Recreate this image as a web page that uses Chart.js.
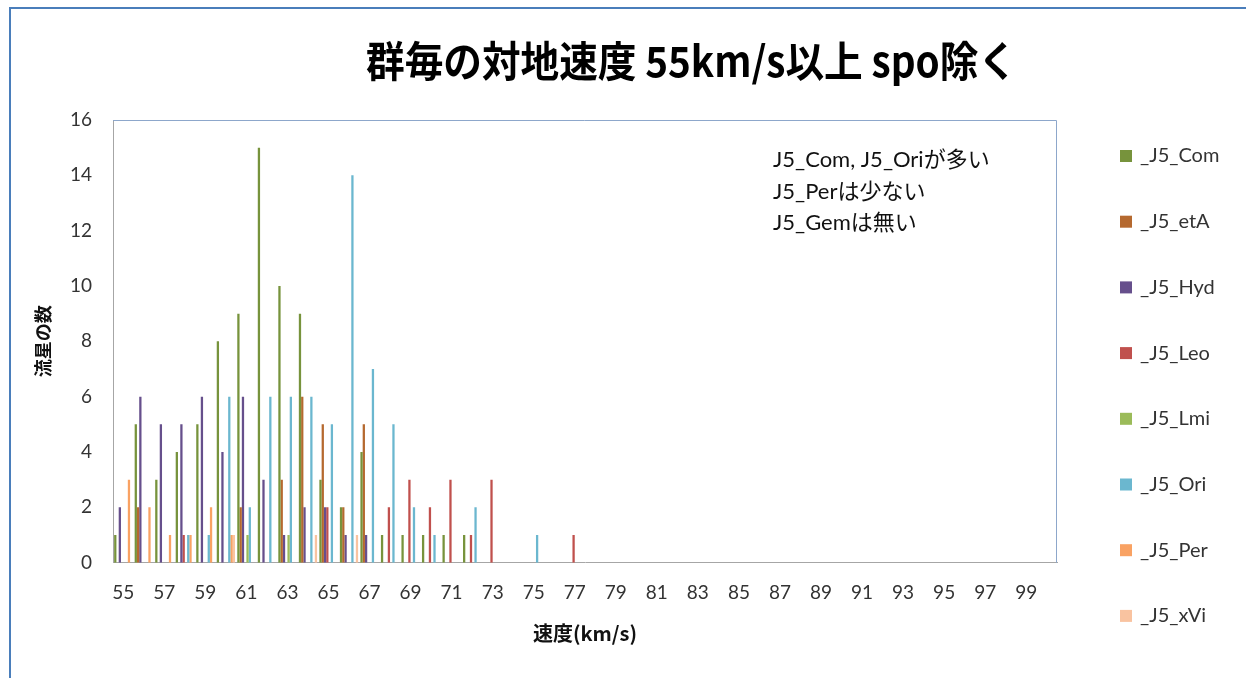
<!DOCTYPE html>
<html>
<head>
<meta charset="utf-8">
<script src="https://cdn.jsdelivr.net/npm/chart.js@4"></script>
<style>
  html, body { margin: 0; padding: 0; background: #fff; overflow: hidden; }
  #wrap { position: relative; width: 1246px; height: 678px; }
  #frame { position: absolute; left: 9px; top: 7px; width: 1300px; height: 700px;
           border-left: 2px solid #4A7EBB; border-top: 2px solid #4A7EBB; pointer-events: none; }
  canvas { position: absolute; left: 0; top: 0; }
</style>
</head>
<body>
<div id="wrap">
  <canvas id="c" width="1246" height="678"></canvas>
  <div id="frame"></div>
</div>
<script>
// 速度 (km/s) categories
const speeds = [55,56,57,58,59,60,61,62,63,64,65,66,67,68,69,70,71,72,73,74,75,76,77,78,79,80,
                81,82,83,84,85,86,87,88,89,90,91,92,93,94,95,96,97,98,99,100];

// meteor counts per shower, one value per speed category
const com = [1,5,3,4,5,8,9,15,10,9,3,2,4,1,1,1,1,1,0,0,0,0,0,0,0,0,0,0,0,0,0,0,0,0,0,0,0,0,0,0,0,0,0,0,0,0];
const etA = [0,2,0,0,0,0,2,0,3,6,5,2,5,0,0,0,0,0,0,0,0,0,0,0,0,0,0,0,0,0,0,0,0,0,0,0,0,0,0,0,0,0,0,0,0,0];
const hyd = [2,6,5,5,6,4,6,3,1,2,2,1,1,0,0,0,0,0,0,0,0,0,0,0,0,0,0,0,0,0,0,0,0,0,0,0,0,0,0,0,0,0,0,0,0,0];
const leo = [0,0,0,1,0,0,0,0,0,0,2,0,0,2,3,2,3,1,3,0,0,0,1,0,0,0,0,0,0,0,0,0,0,0,0,0,0,0,0,0,0,0,0,0,0,0];
const lmi = [0,0,0,0,0,0,1,0,1,0,0,0,0,0,0,0,0,0,0,0,0,0,0,0,0,0,0,0,0,0,0,0,0,0,0,0,0,0,0,0,0,0,0,0,0,0];
const ori = [0,0,0,1,1,6,2,6,6,6,5,14,7,5,2,1,0,2,0,0,1,0,0,0,0,0,0,0,0,0,0,0,0,0,0,0,0,0,0,0,0,0,0,0,0,0];
const per = [3,2,1,1,2,1,0,0,0,0,0,0,0,0,0,0,0,0,0,0,0,0,0,0,0,0,0,0,0,0,0,0,0,0,0,0,0,0,0,0,0,0,0,0,0,0];
const xvi = [0,0,0,0,0,1,0,0,0,1,0,1,0,0,0,0,0,0,0,0,0,0,0,0,0,0,0,0,0,0,0,0,0,0,0,0,0,0,0,0,0,0,0,0,0,0];

const seriesNames = ['_J5_Com','_J5_etA','_J5_Hyd','_J5_Leo','_J5_Lmi','_J5_Ori','_J5_Per','_J5_xVi'];
const seriesColors = ['#77933C','#B5692F','#664F8C','#C0504D','#9BBB59','#6BB7CF','#F9A263','#F9C3A0'];
const seriesData = [com, etA, hyd, leo, lmi, ori, per, xvi];

const yTicks = [0,2,4,6,8,10,12,14,16];

const chartTitle = '群毎の対地速度 55km/s以上 spo除く';
const notes = ['J5_Com, J5_Oriが多い', 'J5_Perは少ない', 'J5_Gemは無い'];
const xTitle = '速度(km/s)';
const yTitle = '流星の数';

const LATIN = 'Lato, "Noto Sans CJK JP", sans-serif';
const CJK = '"Noto Sans CJK JP", sans-serif';
Chart.defaults.font.family = LATIN;
Chart.defaults.color = '#333';

// title, plot frame, notes and legend drawn on the chart canvas
const decorations = {
  id: 'decorations',
  beforeDatasetsDraw(chart) {
    const {ctx, chartArea: a} = chart;
    ctx.save();
    ctx.strokeStyle = '#8DA7CB';
    ctx.lineWidth = 1;
    ctx.beginPath();
    ctx.moveTo(a.left, a.top + 0.5);
    ctx.lineTo(a.right - 0.5, a.top + 0.5);
    ctx.lineTo(a.right - 0.5, a.bottom);
    ctx.stroke();
    ctx.restore();
  },
  afterDraw(chart) {
    const ctx = chart.ctx;
    ctx.save();
    // chart title, condensed to its column width
    ctx.font = 'bold 42px ' + CJK;
    ctx.fillStyle = '#000';
    ctx.textBaseline = 'middle';
    ctx.textAlign = 'left';
    const tw = ctx.measureText(chartTitle).width;
    ctx.translate(366, 61);
    ctx.scale(651 / tw, 1);
    ctx.fillText(chartTitle, 0, 0);
    ctx.restore();

    // notes inside the plot
    ctx.save();
    ctx.font = '22px ' + LATIN;
    ctx.fillStyle = '#111';
    ctx.textBaseline = 'middle';
    notes.forEach((t, i) => ctx.fillText(t, 773, 160 + i * 31.6));
    ctx.restore();

    // legend
    ctx.save();
    ctx.font = '20px ' + LATIN;
    ctx.textBaseline = 'middle';
    chart.data.datasets.forEach((ds, i) => {
      const y = 156 + i * 65.7;
      ctx.fillStyle = ds.backgroundColor;
      ctx.fillRect(1120, y - 6, 12, 12);
      ctx.fillStyle = '#333';
      ctx.fillText(ds.label, 1140, y);
    });
    ctx.restore();
  }
};

new Chart(document.getElementById('c'), {
  type: 'bar',
  data: {
    labels: speeds,
    datasets: seriesNames.map((n, i) => ({
      label: n,
      data: seriesData[i],
      backgroundColor: seriesColors[i],
      borderWidth: 0,
      categoryPercentage: 8 / 9,
      barPercentage: 1.0
    }))
  },
  options: {
    responsive: false,
    devicePixelRatio: 1,
    animation: false,
    events: [],
    layout: { padding: { top: 120, left: 0, right: 189, bottom: 0 } },
    plugins: { legend: { display: false }, title: { display: false }, tooltip: { enabled: false } },
    scales: {
      x: {
        grid: { display: false, drawTicks: false },
        border: { display: true, color: '#A6A6A6', width: 1 },
        ticks: {
          autoSkip: false, maxRotation: 0, minRotation: 0, padding: 19,
          color: '#333', font: { size: 19, family: LATIN },
          callback: (v, i) => (i % 2 === 0 ? speeds[i] : '')
        },
        title: {
          display: true, text: xTitle, color: '#111',
          font: { size: 20, weight: 'bold', family: CJK },
          padding: { top: 0, bottom: 33 }
        },
        afterFit: (s) => { s.height = 115.3; }
      },
      y: {
        min: 0, max: 16,
        afterBuildTicks: (s) => { s.ticks = yTicks.map(v => ({ value: v })); },
        grid: { display: false, drawTicks: false },
        border: { display: true, color: '#A6A6A6', width: 1 },
        ticks: { padding: 21, color: '#333', font: { size: 19, family: LATIN } },
        title: {
          display: true, text: yTitle, color: '#111',
          font: { size: 18, weight: 'bold', family: CJK },
          padding: { top: 32, bottom: 0 }
        },
        afterFit: (s) => { s.width = 113; }
      }
    }
  },
  plugins: [decorations]
});
</script>
</body>
</html>
